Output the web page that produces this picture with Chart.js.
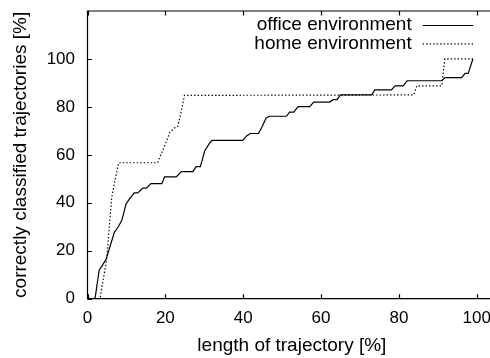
<!DOCTYPE html>
<html><head><meta charset="utf-8">
<script src="https://cdn.jsdelivr.net/npm/chart.js@4.4.1/dist/chart.umd.min.js"></script>
<style>
html,body{margin:0;padding:0;background:#fff;overflow:hidden;width:490px;height:358px}
</style></head>
<body><canvas id="c" width="490" height="358"></canvas>
<script>
// ---- data ----
const seriesNames = ['office environment', 'home environment'];
const officeX = [0, 1.8, 2.0, 3.0, 4.75, 6.9, 7.75, 8.8, 9.9, 10.8, 12.0, 12.9, 14.2, 15.1, 16.3, 19.1, 19.8, 22.8, 24.1, 27.1, 27.9, 29.0, 30.1, 31.4, 32.0, 39.9, 40.8, 41.8, 43.9, 44.7, 45.9, 46.8, 51.1, 51.9, 53.0, 54.1, 57.1, 58.1, 62.2, 63.1, 64.1, 65.0, 73.0, 73.8, 78.1, 79.0, 81.1, 82.1, 91.0, 91.8, 96.1, 97.0, 97.8, 99.0];
const officeY = [0, 0, 0.8, 11.9, 16.3, 27.7, 29.6, 32.6, 39.5, 41.6, 44.1, 44.1, 46.1, 46.1, 48.0, 48.0, 50.8, 50.8, 53.0, 53.0, 55.1, 55.1, 61.6, 65.0, 66.0, 66.0, 67.8, 68.9, 68.9, 71.2, 75.4, 76.1, 76.1, 77.8, 77.8, 80.1, 80.1, 82.0, 82.0, 83.0, 83.0, 85.0, 85.0, 87.1, 87.1, 88.8, 88.8, 90.9, 90.9, 92.2, 92.2, 94.0, 94.0, 100];
const homeX = [0, 3.2, 4.9, 5.6, 6.2, 7.0, 8.0, 18.0, 19.3, 21.1, 22.3, 23.2, 24.1, 24.9, 83.8, 84.6, 91.0, 91.8, 98.7, 99.0];
const homeY = [0, 0, 16.0, 30.0, 42.0, 49.0, 56.7, 56.7, 61.6, 69.2, 71.2, 71.9, 78.1, 84.8, 85.0, 88.8, 88.8, 100, 100, 100];
const xTicks = [0, 20, 40, 60, 80, 100];
const yTicks = [0, 20, 40, 60, 80, 100];
const xRange = [0, 103.4];   // visible part of the (cropped) plot
const xTitleCenter = 52.5;   // title centred on the original 0..105 range
const yRange = [0, 120];
const xTitle = 'length of trajectory [%]';
const yTitle = 'correctly classified trajectories [%]';

const FONT = '"Liberation Sans", Arial, Helvetica, sans-serif';
const toPts = (xs, ys) => xs.map((v, i) => ({x: v, y: ys[i]}));

const framePlugin = {
  id: 'frame',
  afterDatasetsDraw(chart) {
    const {ctx, chartArea: a, scales: {x, y}} = chart;
    ctx.save();
    ctx.strokeStyle = '#000';
    ctx.lineWidth = 1.2;
    // border (right side lies outside the cropped picture)
    ctx.beginPath();
    ctx.moveTo(a.right + 2, a.top); ctx.lineTo(a.left, a.top);
    ctx.lineTo(a.left, a.bottom); ctx.lineTo(a.right + 2, a.bottom);
    ctx.stroke();
    const L = 4.5;
    ctx.beginPath();
    xTicks.forEach(v => {
      const px = Math.round(x.getPixelForValue(v)) + 0.5;
      ctx.moveTo(px, a.bottom); ctx.lineTo(px, a.bottom - L);
      ctx.moveTo(px, a.top); ctx.lineTo(px, a.top + L);
    });
    yTicks.forEach(v => {
      const py = Math.round(y.getPixelForValue(v)) + 0.5;
      ctx.moveTo(a.left, py); ctx.lineTo(a.left + L, py);
    });
    ctx.stroke();
    // x axis title
    ctx.font = '19px ' + FONT;
    ctx.fillStyle = '#000';
    ctx.textAlign = 'center';
    ctx.textBaseline = 'middle';
    ctx.fillText(xTitle, x.getPixelForValue(xTitleCenter), 345.5);
    // key (text then sample, gnuplot style)
    ctx.textAlign = 'right';
    chart.data.datasets.forEach((ds, i) => {
      const yy = a.top + 14 + i * 18.3;
      ctx.fillText(ds.label, a.right - 78.3, yy);
      ctx.beginPath();
      ctx.strokeStyle = ds.borderColor;
      ctx.lineWidth = ds.borderWidth;
      ctx.setLineDash(ds.borderDash || []);
      ctx.moveTo(a.right - 67.3, yy + 0.5);
      ctx.lineTo(a.right - 16.7, yy + 0.5);
      ctx.stroke();
      ctx.setLineDash([]);
    });
    ctx.restore();
  }
};

new Chart(document.getElementById('c'), {
  type: 'line',
  data: {
    datasets: [
      {label: seriesNames[0], data: toPts(officeX, officeY), borderColor: '#000', borderWidth: 1.2, pointRadius: 0, tension: 0, fill: false},
      {label: seriesNames[1], data: toPts(homeX, homeY), borderColor: '#000', borderWidth: 1.2, borderDash: [1.4, 2.1], pointRadius: 0, tension: 0, fill: false}
    ]
  },
  options: {
    responsive: false,
    animation: false,
    devicePixelRatio: 1,
    layout: {padding: {top: 11, right: 0, left: 0, bottom: 0}},
    plugins: {legend: {display: false}, tooltip: {enabled: false}},
    scales: {
      x: {
        type: 'linear', min: xRange[0], max: xRange[1],
        afterBuildTicks: s => { s.ticks = xTicks.map(v => ({value: v})); },
        afterFit: s => { s.height = 59.3; s.paddingLeft = 0; s.paddingRight = 0; s.paddingTop = 0; s.paddingBottom = 0; },
        grid: {display: false, drawTicks: false},
        border: {display: false},
        ticks: {color: '#000', font: {family: FONT, size: 17}, padding: 9.6, maxRotation: 0},
        title: {display: false}
      },
      y: {
        type: 'linear', min: yRange[0], max: yRange[1],
        afterBuildTicks: s => { s.ticks = yTicks.map(v => ({value: v})); },
        afterFit: s => { s.width = 87.5; s.paddingLeft = 0; s.paddingRight = 0; s.paddingTop = 0; s.paddingBottom = 0; },
        grid: {display: false, drawTicks: false},
        border: {display: false},
        ticks: {color: '#000', font: {family: FONT, size: 17}, padding: 12.5},
        title: {display: true, text: yTitle, color: '#000', font: {family: FONT, size: 19}, padding: {top: 9.6, bottom: 0}}
      }
    }
  },
  plugins: [framePlugin]
});
</script>
</body></html>
